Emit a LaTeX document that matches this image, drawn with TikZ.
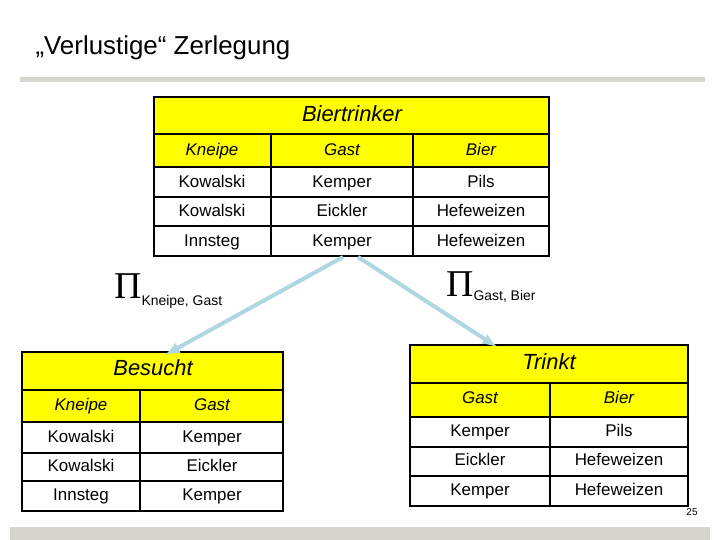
\documentclass[tikz,border=0pt]{standalone}
\usepackage{fontspec}
\setmainfont{Liberation Sans}
\newfontfamily\pifont{Liberation Serif}
\usetikzlibrary{calc}
\definecolor{ttyellow}{RGB}{255,255,0}
\definecolor{arrblue}{RGB}{175,215,225}
\definecolor{bargray}{RGB}{215,213,208}
\begin{document}
\begin{tikzpicture}[x=1bp, y=-1bp,
    cell/.style={font=\fontsize{17}{19}\selectfont, text height=12bp, text depth=3bp},
    head/.style={font=\fontsize{17}{19}\selectfont\itshape, text height=12bp, text depth=3bp},
    ttl/.style={font=\fontsize{22}{25}\selectfont\itshape, text height=15bp, text depth=4bp},
    proj/.style={line width=4bp, arrblue, -latex}]

    % Page frame and grey bars
    \useasboundingbox (0,0) rectangle (720,540);
    \fill[bargray] (20,77) rectangle (705,82);
    \fill[bargray] (10,527) rectangle (710,540);
    \node[anchor=west, font=\fontsize{26}{29}\selectfont] (title) at (32,48) {„Verlustige“ Zerlegung};
    \node[font=\fontsize{10}{11}\selectfont] (page) at (692,512) {25};

    % Biertrinker
    \begin{scope}[line width=1.2bp]
        \fill[ttyellow] (154,97) rectangle (549,167);
        \draw (154,97) rectangle (549,256);
        \draw (154,134) -- (549,134);
        \foreach \y in {167,197,226} \draw (154,\y) -- (549,\y);
        \draw (271,134) -- (271,256);
        \draw (413,134) -- (413,256);
    \end{scope}
    \node[ttl] (bt) at (352,116) {Biertrinker};
    \node[head] (btk) at (212,151) {Kneipe};
    \node[head] (btg) at (342,151) {Gast};
    \node[head] (btb) at (481,151) {Bier};
    \node[cell] (b1k) at (212,183) {Kowalski};
    \node[cell] (b1g) at (342,183) {Kemper};
    \node[cell] (b1b) at (481,183) {Pils};
    \node[cell] (b2k) at (212,212) {Kowalski};
    \node[cell] (b2g) at (342,212) {Eickler};
    \node[cell] (b2b) at (481,212) {Hefeweizen};
    \node[cell] (b3k) at (212,242) {Innsteg};
    \node[cell] (b3g) at (342,242) {Kemper};
    \node[cell] (b3b) at (481,242) {Hefeweizen};

    % Besucht
    \begin{scope}[line width=1.2bp]
        \fill[ttyellow] (22,352) rectangle (283,422);
        \draw (22,352) rectangle (283,511);
        \draw (22,390) -- (283,390);
        \foreach \y in {422,453,481} \draw (22,\y) -- (283,\y);
        \draw (140,390) -- (140,511);
    \end{scope}
    \node[ttl] (bs) at (153,370) {Besucht};
    \node[head] (bsk) at (81,406) {Kneipe};
    \node[head] (bsg) at (212,406) {Gast};
    \node[cell] (s1k) at (81,438) {Kowalski};
    \node[cell] (s1g) at (212,438) {Kemper};
    \node[cell] (s2k) at (81,467) {Kowalski};
    \node[cell] (s2g) at (212,467) {Eickler};
    \node[cell] (s3k) at (81,496) {Innsteg};
    \node[cell] (s3g) at (212,496) {Kemper};

    % Trinkt
    \begin{scope}[line width=1.2bp]
        \fill[ttyellow] (410,345) rectangle (688,417);
        \draw (410,345) rectangle (688,506);
        \draw (410,383) -- (688,383);
        \foreach \y in {417,447,476} \draw (410,\y) -- (688,\y);
        \draw (550,383) -- (550,506);
    \end{scope}
    \node[ttl] (tr) at (549,364) {Trinkt};
    \node[head] (trg) at (480,399) {Gast};
    \node[head] (trb) at (619,399) {Bier};
    \node[cell] (t1g) at (480,432) {Kemper};
    \node[cell] (t1b) at (619,432) {Pils};
    \node[cell] (t2g) at (480,461) {Eickler};
    \node[cell] (t2b) at (619,461) {Hefeweizen};
    \node[cell] (t3g) at (480,491) {Kemper};
    \node[cell] (t3b) at (619,491) {Hefeweizen};

    % Projections
    \coordinate (srcl) at (343,257);
    \coordinate (srcr) at (358,257);
    \coordinate (dstl) at (165,355);
    \coordinate (dstr) at (497,347);
    \draw[proj] (srcl) -- (dstl);
    \draw[proj] (srcr) -- (dstr);
    \node[anchor=west, inner sep=0] (pil) at (114,291)
        {{\pifont\fontsize{38}{38}\selectfont Π}\raisebox{-1.3ex}{\fontsize{14}{16}\selectfont Kneipe, Gast}};
    \node[anchor=west, inner sep=0] (pir) at (446,287)
        {{\pifont\fontsize{38}{38}\selectfont Π}\raisebox{-0.8ex}{\fontsize{14}{16}\selectfont Gast, Bier}};
\end{tikzpicture}
\end{document}
